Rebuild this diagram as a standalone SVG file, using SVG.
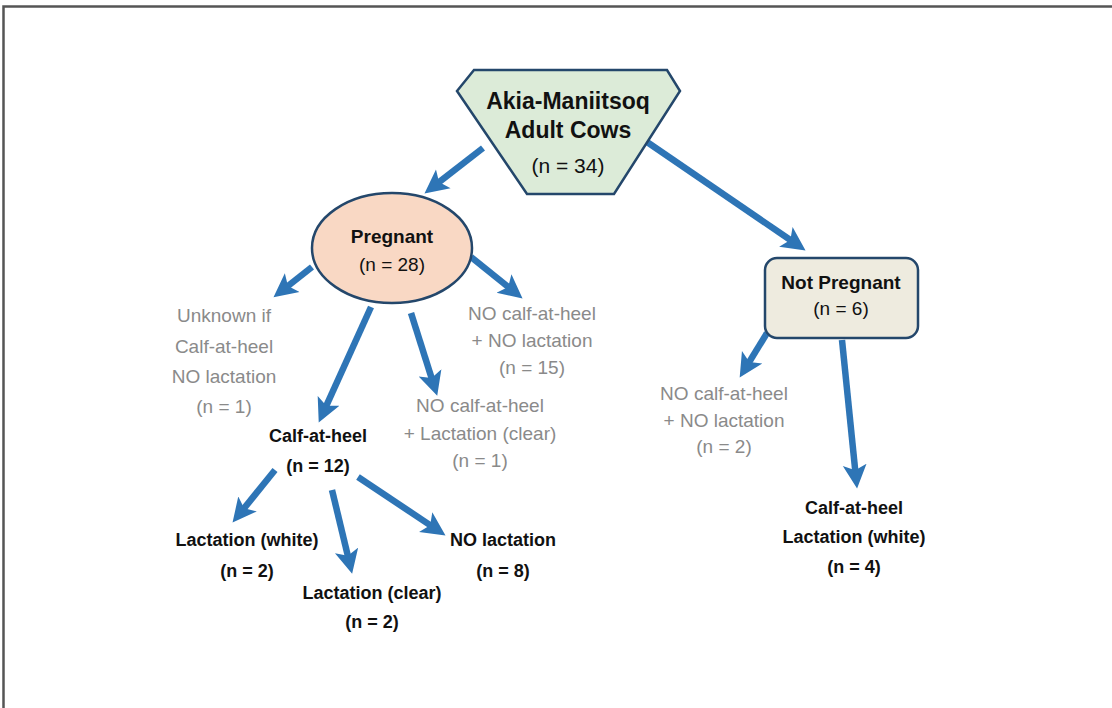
<svg xmlns="http://www.w3.org/2000/svg" width="1112" height="708" viewBox="0 0 1112 708">
<style>
.t{font-family:"Liberation Sans",Arial,sans-serif;text-anchor:middle}
.b{font-weight:bold;fill:#111}
.g{fill:#8a8a8a;font-size:19px}
.k{font-size:18px}
.n{fill:#111}
.conn line{stroke:#2E75B6;stroke-width:6.5;marker-end:url(#ah)}
.shape{stroke:#24476B;stroke-width:2.5}
</style>
<defs>
<marker id="ah" markerUnits="userSpaceOnUse" markerWidth="26" markerHeight="26" viewBox="0 0 24 24" refX="14" refY="12" orient="auto">
<path d="M0,1 L22,12 L0,23 L5,12 Z" fill="#2E75B6"/>
</marker>
</defs>
<rect width="1112" height="708" fill="#fff"/>
<path d="M3.5,708 V6.5 H1112" fill="none" stroke="#555" stroke-width="2.5"/>
<g id="connectors" class="conn">
<line x1="483" y1="148" x2="431.3" y2="188.1"/>
<line x1="647" y1="142" x2="798.4" y2="245.5"/>
<line x1="312" y1="267" x2="280.3" y2="292"/>
<line x1="371" y1="307" x2="322.3" y2="414.7"/>
<line x1="411" y1="313" x2="434.6" y2="387.4"/>
<line x1="471" y1="257" x2="515.8" y2="293"/>
<line x1="767" y1="333" x2="744.2" y2="370.2"/>
<line x1="842" y1="340" x2="856.2" y2="480"/>
<line x1="275" y1="470" x2="238" y2="515.8"/>
<line x1="332" y1="490" x2="350.1" y2="565.2"/>
<line x1="358" y1="477" x2="438.3" y2="530.6"/>
</g>
<g id="root">
<polygon class="shape" points="474,70 667,70 680,91 614,194 527,194 457,91" fill="#DCEBD8"/>
<text class="t b" x="568" y="109" font-size="23">Akia-Maniitsoq</text>
<text class="t b" x="568" y="138" font-size="23">Adult Cows</text>
<text class="t n" x="568" y="173" font-size="21">(n = 34)</text>
</g>
<g id="pregnant">
<ellipse class="shape" cx="392" cy="248" rx="80" ry="55" fill="#F9D8C4"/>
<text class="t b" x="392" y="243" font-size="19">Pregnant</text>
<text class="t n" x="392" y="271" font-size="19">(n = 28)</text>
</g>
<g id="notpregnant">
<rect class="shape" x="765" y="258" width="153" height="80" rx="12" fill="#EEEBDF"/>
<text class="t b" x="841" y="289" font-size="19">Not Pregnant</text>
<text class="t n" x="841" y="315" font-size="19">(n = 6)</text>
</g>
<g id="unknown">
<text class="t g" x="224" y="322">Unknown if</text>
<text class="t g" x="224" y="353">Calf-at-heel</text>
<text class="t g" x="224" y="383">NO lactation</text>
<text class="t g" x="224" y="413">(n = 1)</text>
</g>
<g id="nocalf-nolact-p">
<text class="t g" x="532" y="320">NO calf-at-heel</text>
<text class="t g" x="532" y="347">+ NO lactation</text>
<text class="t g" x="532" y="374">(n = 15)</text>
</g>
<g id="nocalf-clear">
<text class="t g" x="480" y="412">NO calf-at-heel</text>
<text class="t g" x="480" y="440">+ Lactation (clear)</text>
<text class="t g" x="480" y="467">(n = 1)</text>
</g>
<g id="calf">
<text class="t b k" x="318" y="442">Calf-at-heel</text>
<text class="t b k" x="318" y="472">(n = 12)</text>
</g>
<g id="lact-white">
<text class="t b k" x="247" y="546">Lactation (white)</text>
<text class="t b k" x="247" y="577">(n = 2)</text>
</g>
<g id="lact-clear">
<text class="t b k" x="372" y="599">Lactation (clear)</text>
<text class="t b k" x="372" y="628">(n = 2)</text>
</g>
<g id="nolact">
<text class="t b k" x="503" y="546">NO lactation</text>
<text class="t b k" x="503" y="577">(n = 8)</text>
</g>
<g id="nocalf-nolact-np">
<text class="t g" x="724" y="400">NO calf-at-heel</text>
<text class="t g" x="724" y="427">+ NO lactation</text>
<text class="t g" x="724" y="453">(n = 2)</text>
</g>
<g id="calf-white">
<text class="t b k" x="854" y="514">Calf-at-heel</text>
<text class="t b k" x="854" y="543">Lactation (white)</text>
<text class="t b k" x="854" y="573">(n = 4)</text>
</g>
</svg>
